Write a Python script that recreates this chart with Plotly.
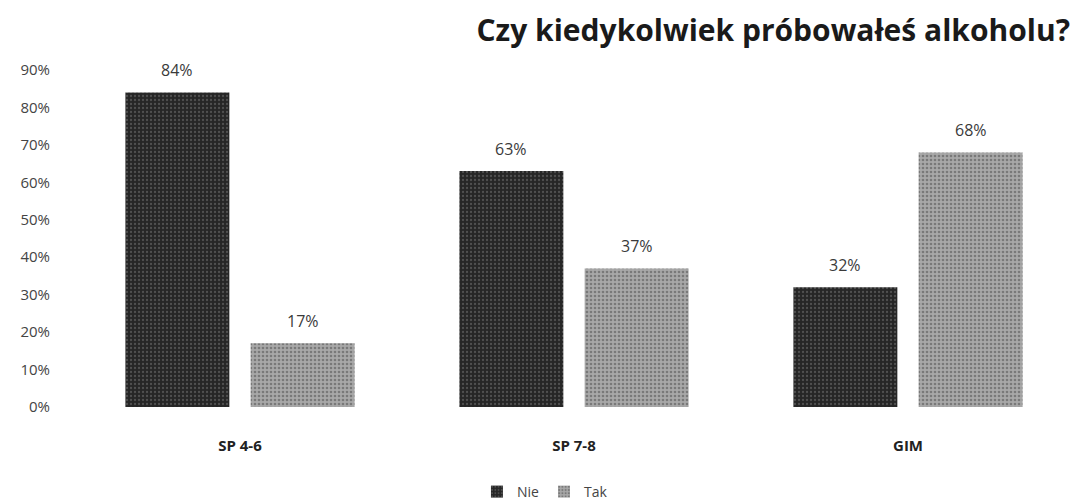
import plotly.graph_objects as go

categories = ["SP 4-6", "SP 7-8", "GIM"]
nie = [0.84, 0.63, 0.32]
tak = [0.17, 0.37, 0.68]
tick_vals = [0, 0.1, 0.2, 0.3, 0.4, 0.5, 0.6, 0.7, 0.8, 0.9]
tick_text = ["0%", "10%", "20%", "30%", "40%", "50%", "60%", "70%", "80%", "90%"]

font_main = "Open Sans, Noto Sans, sans-serif"
pos = list(range(len(categories)))

fig = go.Figure()
fig.add_trace(go.Bar(
    name="Nie", x=pos, y=nie,
    marker=dict(color="#262626", line=dict(width=0),
                pattern=dict(shape=".", fgcolor="#7a7a7a", size=4, solidity=0.25)),
))
fig.add_trace(go.Bar(
    name="Tak", x=pos, y=tak,
    marker=dict(color="#a8a8a8", line=dict(width=0),
                pattern=dict(shape=".", fgcolor="#4a4a4a", size=4, solidity=0.35)),
))

# value labels sit a bit above each bar
for vals, off in ((nie, -0.1875), (tak, 0.1875)):
    for i, v in zip(pos, vals):
        fig.add_annotation(x=i + off, y=v, text=f"{round(v * 100)}%", showarrow=False,
                           yshift=22, font=dict(size=16, color="#3a3a3a", family=font_main))

# page body adds an 8px offset, width is shrunk to match; bottom spills past the window
fig.update_layout(
    width=1070, height=502,
    paper_bgcolor="white", plot_bgcolor="white",
    margin=dict(l=65, r=3, t=62, b=102),
    title=dict(text="<b>Czy kiedykolwiek próbowałeś alkoholu?</b>",
               x=0.9925, xanchor="right", xref="container",
               y=1 - 22 / 502, yanchor="middle",
               font=dict(size=30, color="#1a1a1a", family=font_main)),
    bargap=0.25, bargroupgap=0.17,
    showlegend=True,
    legend=dict(orientation="h", x=0.471, xanchor="center",
                y=-0.2485, yanchor="middle", itemwidth=30,
                font=dict(size=14, color="#444", family=font_main)),
    xaxis=dict(range=[-0.5, len(categories) - 0.5], tickvals=pos,
               ticktext=[f"<b>{c}</b>" for c in categories],
               tickfont=dict(size=15, color="#222", family=font_main),
               ticks="outside", ticklen=25, tickcolor="rgba(0,0,0,0)",
               showline=False, showgrid=False, zeroline=False),
    yaxis=dict(range=[0, 0.9], tickvals=tick_vals, ticktext=tick_text,
               tickfont=dict(size=15, color="#444", family=font_main),
               ticks="outside", ticklen=19, tickcolor="rgba(0,0,0,0)",
               showgrid=False, zeroline=False, showline=False),
)

fig.write_html("out.html")
